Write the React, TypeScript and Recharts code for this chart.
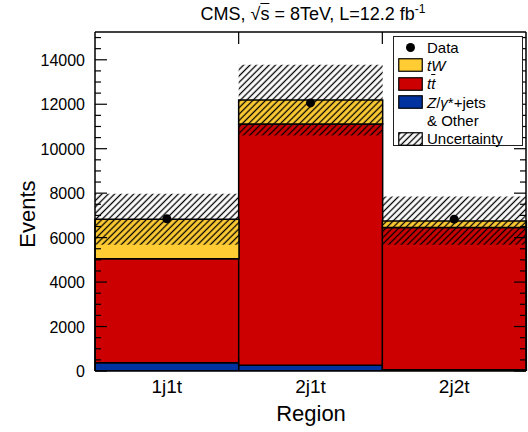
import React from 'react'
import { ComposedChart, Bar, Line, XAxis, YAxis } from 'recharts'

const regions = ['1j1t', '2j1t', '2j2t']
const zjetsOther = [375, 260, 60]
const ttbar = [4680, 10850, 6395]
const tW = [1775, 1080, 290]
const uncLow = [5680, 10590, 5680]
const uncHigh = [7970, 13780, 7850]
const observed = [6850, 12060, 6830]
const yTicks = Array.from({ length: 31 }, (_, i) => i * 500)
const yLabelStep = 2000
const yMax = 15250

const W = 528
const H = 432
const M = { top: 31, right: 1, bottom: 0, left: 0 }
const Y_W = 95
const X_H = 61
const PLOT_W = W - M.left - M.right - Y_W - 1
const BAND = PLOT_W / regions.length

const YELLOW = '#ffcc33'
const RED = '#cc0000'
const BLUE = '#0033a0'
const FONT = '"Liberation Sans", Arial, Helvetica, sans-serif'
const AXIS_LINE = { stroke: '#000', strokeWidth: 1.5 }

const rows = regions.map((region, i) => ({
  region,
  zjets: zjetsOther[i],
  ttbar: ttbar[i],
  tW: tW[i],
  uncBase: uncLow[i],
  uncSpan: uncHigh[i] - uncLow[i],
  data: observed[i],
}))

function LeftTick(props: any) {
  const { x, y, payload } = props
  const major = payload.value % yLabelStep === 0
  const ax = x + 10
  return (
    <g>
      <line x1={ax} x2={ax + (major ? 12 : 6)} y1={y} y2={y} stroke="#000" strokeWidth={1.2} />
      {major && (
        <text x={x} y={y} dy={6} textAnchor="end" fontSize={16} fontFamily={FONT} fill="#000">
          {payload.value}
        </text>
      )}
    </g>
  )
}

function RightTick(props: any) {
  const { x, y, payload } = props
  const major = payload.value % yLabelStep === 0
  return <line x1={x} x2={x - (major ? 12 : 6)} y1={y} y2={y} stroke="#000" strokeWidth={1.2} />
}

function RegionTick(props: any) {
  const { x, y, payload, index } = props
  const last = index === regions.length - 1
  return (
    <g>
      {!last && <line x1={x + BAND / 2} x2={x + BAND / 2} y1={y} y2={y - 12} stroke="#000" strokeWidth={1.2} />}
      <text x={x} y={y} dy={22} textAnchor="middle" fontSize={19} fontFamily={FONT} fill="#000">
        {payload.value}
      </text>
    </g>
  )
}

function TopTick(props: any) {
  const { x, y, index } = props
  if (index === regions.length - 1) return <g />
  return <line x1={x + BAND / 2} x2={x + BAND / 2} y1={y} y2={y + 12} stroke="#000" strokeWidth={1.2} />
}

function Swatch({ fill }: { fill: string }) {
  return (
    <svg width={25} height={14} style={{ display: 'block' }}>
      <defs>
        <pattern id="hatchLeg" width={4.5} height={4.5} patternUnits="userSpaceOnUse" patternTransform="rotate(45)">
          <line x1={2.25} y1={0} x2={2.25} y2={4.5} stroke="#000" strokeWidth={1.3} />
        </pattern>
      </defs>
      <rect x={0.75} y={0.75} width={23.5} height={12.5} fill={fill} stroke="#000" strokeWidth={1.2} />
    </svg>
  )
}

function LegendBox() {
  const row: React.CSSProperties = { height: 18.3, display: 'flex', alignItems: 'center' }
  const mark: React.CSSProperties = { width: 25, marginLeft: 4, marginRight: 4, display: 'flex', justifyContent: 'center' }
  return (
    <div
      style={{
        position: 'absolute',
        left: 393,
        top: 36,
        width: 130,
        height: 110,
        border: '1px solid #222',
        background: '#fff',
        boxSizing: 'border-box',
        paddingTop: 1,
        fontFamily: FONT,
        fontSize: 15,
        color: '#000',
        lineHeight: 1,
      }}
    >
      <div style={row}>
        <div style={mark}>
          <div style={{ width: 9, height: 9, borderRadius: '50%', background: '#000' }} />
        </div>
        <span>Data</span>
      </div>
      <div style={row}>
        <div style={mark}><Swatch fill={YELLOW} /></div>
        <span style={{ fontStyle: 'italic' }}>tW</span>
      </div>
      <div style={row}>
        <div style={mark}><Swatch fill={RED} /></div>
        <span style={{ fontStyle: 'italic' }}>t<span style={{ textDecoration: 'overline' }}>t</span></span>
      </div>
      <div style={row}>
        <div style={mark}><Swatch fill={BLUE} /></div>
        <span>
          <i>Z</i>/<i>γ</i>*+jets
        </span>
      </div>
      <div style={row}>
        <div style={mark} />
        <span>&amp; Other</span>
      </div>
      <div style={row}>
        <div style={mark}><Swatch fill="url(#hatchLeg)" /></div>
        <span>Uncertainty</span>
      </div>
    </div>
  )
}

export default function App() {
  return (
    <div style={{ position: 'absolute', left: 0, top: 0, width: W, height: H, background: '#fff', fontFamily: FONT }}>
      <div
        style={{
          position: 'absolute',
          left: 98,
          width: 430,
          top: 2,
          textAlign: 'center',
          fontSize: 18,
          color: '#000',
          whiteSpace: 'nowrap',
        }}
      >
        CMS, √<span style={{ textDecoration: 'overline' }}>s</span> = 8TeV, L=12.2 fb<sup style={{ fontSize: 12 }}>-1</sup>
      </div>
      <ComposedChart width={W} height={H} data={rows} margin={M} barCategoryGap={0} barGap={0}>
        <defs>
          <pattern id="hatch" width={4.5} height={4.5} patternUnits="userSpaceOnUse" patternTransform="rotate(45)">
            <line x1={2.25} y1={0} x2={2.25} y2={4.5} stroke="#000" strokeWidth={1.3} />
          </pattern>
        </defs>
        <Bar xAxisId="main" yAxisId="l" stackId="mc" dataKey="zjets" fill={BLUE} stroke="#000" strokeWidth={1.5} isAnimationActive={false} />
        <Bar xAxisId="main" yAxisId="l" stackId="mc" dataKey="ttbar" fill={RED} stroke="#000" strokeWidth={1.5} isAnimationActive={false} />
        <Bar xAxisId="main" yAxisId="l" stackId="mc" dataKey="tW" fill={YELLOW} stroke="#000" strokeWidth={1.5} isAnimationActive={false} />
        <Bar xAxisId="unc" yAxisId="l" stackId="unc" dataKey="uncBase" fill="none" stroke="none" isAnimationActive={false} />
        <Bar xAxisId="unc" yAxisId="l" stackId="unc" dataKey="uncSpan" fill="url(#hatch)" stroke="none" isAnimationActive={false} />
        <Line
          xAxisId="main"
          yAxisId="l"
          dataKey="data"
          stroke="none"
          dot={{ r: 4.5, fill: '#000', stroke: '#000', strokeWidth: 0 }}
          activeDot={false}
          isAnimationActive={false}
        />
        <XAxis
          xAxisId="main"
          dataKey="region"
          height={X_H}
          tickSize={0}
          tickMargin={0}
          tickLine={false}
          axisLine={AXIS_LINE}
          tick={(p: any) => <RegionTick {...p} />}
          interval={0}
        />
        <XAxis
          xAxisId="unc"
          dataKey="region"
          orientation="top"
          height={1}
          tickSize={0}
          tickMargin={0}
          tickLine={false}
          axisLine={AXIS_LINE}
          tick={(p: any) => <TopTick {...p} />}
          interval={0}
        />
        <YAxis
          yAxisId="l"
          type="number"
          width={Y_W}
          domain={[0, yMax]}
          ticks={yTicks}
          interval={0}
          tickSize={0}
          tickMargin={10}
          tickLine={false}
          axisLine={AXIS_LINE}
          allowDataOverflow
          tick={(p: any) => <LeftTick {...p} />}
        />
        <YAxis
          yAxisId="r"
          orientation="right"
          type="number"
          width={1}
          domain={[0, yMax]}
          ticks={yTicks}
          interval={0}
          tickSize={0}
          tickMargin={0}
          tickLine={false}
          axisLine={AXIS_LINE}
          allowDataOverflow
          tick={(p: any) => <RightTick {...p} />}
        />
      </ComposedChart>
      <div
        style={{
          position: 'absolute',
          left: 28,
          top: 214,
          transform: 'translate(-50%, -50%) rotate(-90deg)',
          fontSize: 22,
          color: '#000',
          whiteSpace: 'nowrap',
        }}
      >
        Events
      </div>
      <div
        style={{
          position: 'absolute',
          left: 311,
          top: 414,
          transform: 'translate(-50%, -50%)',
          fontSize: 22,
          color: '#000',
          whiteSpace: 'nowrap',
        }}
      >
        Region
      </div>
      <LegendBox />
    </div>
  )
}
